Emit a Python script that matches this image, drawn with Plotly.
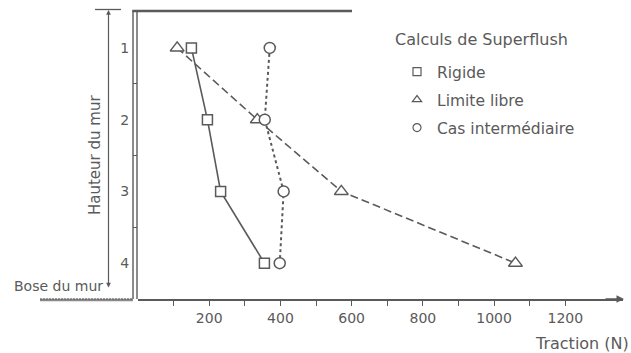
import plotly.graph_objects as go

# ---- data ----
niveaux = [1, 2, 3, 4]
rigide = [150, 195, 232, 355]
limite_libre = [110, 335, 571, 1060]
intermediaire = [370, 356, 409, 398]

x_tickvals = [100, 200, 300, 400, 500, 600, 700, 800, 900, 1000, 1100, 1200]
x_ticktext = ["", "200", "", "400", "", "600", "", "800", "", "1000", "", "1200"]
y_tickvals = [1, 2, 3, 4]
y_ticktext = ["1", "2", "3", "4"]
y_minor = [1.5, 2.5, 3.5]

GREY = "#5a5a5a"
FONT = "DejaVu Sans"

W, H = 631, 353
ML, MR, MT, MB = 138, 8, 12, 54
PW, PH = W - ML - MR, H - MT - MB


def px(x):
    return (x - ML) / PW


def py(y):
    return (H - MB - y) / PH


fig = go.Figure()

series = [
    ("Rigide", rigide, "square", 10, "solid", 1.6, "legend"),
    ("Limite libre", limite_libre, "triangle-up", 12, "8px,4px", 1.6, "legend2"),
    ("Cas intermédiaire", intermediaire, "circle", 11, "dot", 2, "legend3"),
]

for name, vals, sym, size, dash, lw, leg in series:
    fig.add_trace(go.Scatter(
        x=vals, y=niveaux, mode="lines+markers", name=name, showlegend=False,
        line=dict(color=GREY, width=lw, dash=dash),
        marker=dict(symbol=sym, size=size, color="white",
                    line=dict(color=GREY, width=1.5)),
        cliponaxis=False,
    ))

for name, vals, sym, size, dash, lw, leg in series:
    fig.add_trace(go.Scatter(
        x=[None], y=[None], mode="markers", name=name, legend=leg,
        marker=dict(symbol=sym + "-open", size=8, color=GREY,
                    line=dict(color=GREY, width=1.2)),
    ))

shapes = []
# wall: double vertical line
for xv, ytop in [(133, 10), (137, 12)]:
    shapes.append(dict(type="line", xref="paper", yref="paper",
                       x0=px(xv), x1=px(xv), y0=py(ytop), y1=py(299),
                       line=dict(color=GREY, width=1.4)))
# wall top
shapes.append(dict(type="line", xref="paper", yref="paper",
                   x0=px(132.5), x1=px(352), y0=py(11), y1=py(11),
                   line=dict(color=GREY, width=2.5)))
# dimension line tick at top
shapes.append(dict(type="line", xref="paper", yref="paper",
                   x0=px(95), x1=px(121), y0=py(9.5), y1=py(9.5),
                   line=dict(color=GREY, width=1.3)))
# base hatch
shapes.append(dict(type="line", xref="paper", yref="paper",
                   x0=px(40), x1=px(133), y0=py(300), y1=py(300),
                   line=dict(color="#8a8a8a", width=2.5)))
shapes.append(dict(type="line", xref="paper", yref="paper",
                   x0=px(40), x1=px(133), y0=py(299), y1=py(299),
                   line=dict(color=GREY, width=1, dash="2px,1px")))

annotations = [
    # dimension arrow
    dict(xref="paper", yref="paper", x=px(108.5), y=py(10), ax=0, ay=279,
         text="", showarrow=True, arrowside="end+start", arrowhead=2,
         arrowsize=0.8, arrowwidth=1.2, arrowcolor=GREY, standoff=0,
         startstandoff=0, startarrowhead=2, startarrowsize=0.8),
    # x axis arrow
    dict(xref="paper", yref="paper", x=px(624), y=py(299), ax=-20, ay=0,
         text="", showarrow=True, arrowhead=2, arrowsize=1, arrowwidth=1.5,
         arrowcolor=GREY),
    dict(xref="paper", yref="paper", x=px(95), y=py(155), text="Hauteur du mur",
         textangle=-90, showarrow=False, font=dict(size=15, color=GREY, family=FONT),
         xanchor="center", yanchor="middle"),
    dict(xref="paper", yref="paper", x=px(12), y=py(286), text="Bose du mur",
         showarrow=False, font=dict(size=14, color=GREY, family=FONT),
         xanchor="left", yanchor="middle"),
    dict(xref="paper", yref="paper", x=px(631), y=py(343), text="Traction (N)",
         showarrow=False, font=dict(size=16, color=GREY, family=FONT),
         xanchor="right", yanchor="middle"),
    dict(xref="paper", yref="paper", x=px(393), y=py(40), text="Calculs de Superflush",
         showarrow=False, font=dict(size=16, color=GREY, family=FONT),
         xanchor="left", yanchor="middle"),
]

leg_font = dict(size=15.5, color=GREY, family=FONT)
leg_common = dict(xanchor="left", yanchor="middle", bgcolor="rgba(0,0,0,0)",
                  font=leg_font, borderwidth=0, itemwidth=30)

fig.update_layout(
    width=W, height=H,
    margin=dict(l=ML, r=MR, t=MT, b=MB, pad=0),
    paper_bgcolor="white", plot_bgcolor="white",
    font=dict(family=FONT, color=GREY, size=14),
    shapes=shapes, annotations=annotations,
    legend=dict(x=px(397), y=py(72), **leg_common),
    legend2=dict(x=px(397), y=py(100), **leg_common),
    legend3=dict(x=px(397), y=py(128), **leg_common),
    xaxis=dict(range=[0, 1362], showgrid=False, zeroline=False,
               showline=True, linecolor=GREY, linewidth=1.5,
               tickmode="array", tickvals=x_tickvals, ticktext=x_ticktext,
               ticks="outside", ticklen=5, tickcolor=GREY, tickwidth=1.2,
               tickfont=dict(size=14, color=GREY, family=FONT),
               ticklabelstandoff=0),
    yaxis=dict(range=[4.5, 0.5], showgrid=False, zeroline=False, showline=False,
               tickmode="array", tickvals=y_tickvals, ticktext=y_ticktext,
               ticks="outside", ticklen=5, tickcolor="rgba(0,0,0,0)",
               tickfont=dict(size=14, color=GREY, family=FONT),
               minor=dict(tickvals=y_minor, ticks="outside", ticklen=4,
                          tickcolor=GREY, tickwidth=1.2)),
)

fig.write_html(
    "out.html",
    config={"displayModeBar": False},
    post_script="document.body.style.margin='0';document.body.style.overflow='hidden';",
)
